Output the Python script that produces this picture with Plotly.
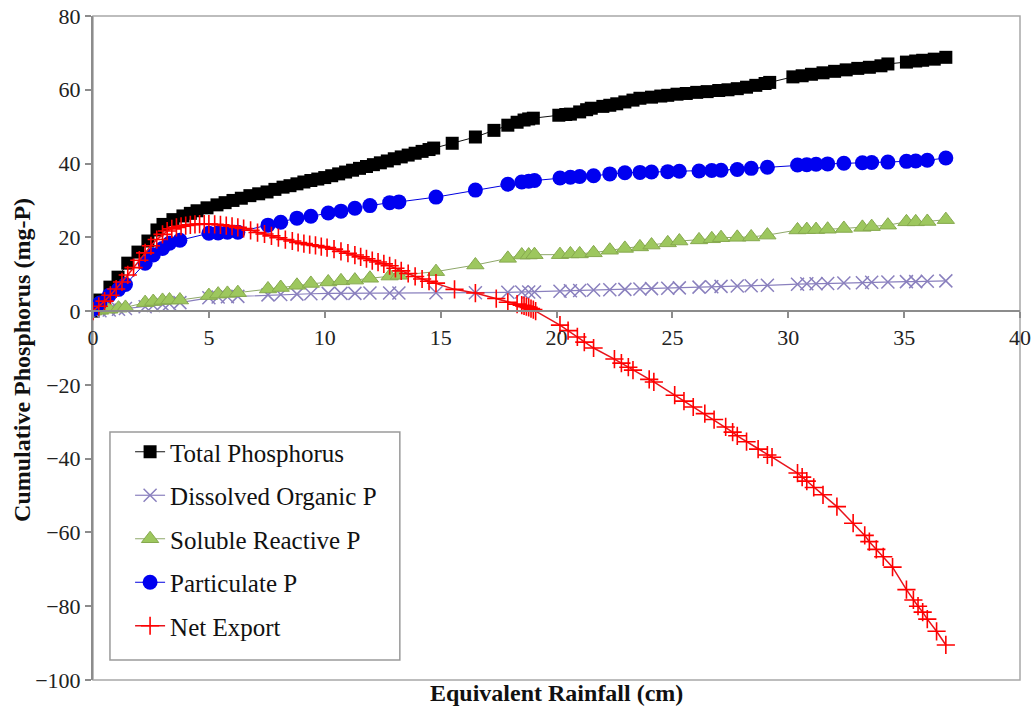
import plotly.graph_objects as go

# ---- Data ----
# Rainfall positions for the phosphorus fractions (DOP, SRP, PP)
x_frac = [0, 0.3, 0.7, 1.1, 1.4, 2.25, 2.6, 3.0, 3.3, 3.75, 5.0, 5.4, 5.8, 6.25, 7.55,
          8.1, 8.8, 9.4, 10.15, 10.7, 11.3, 11.95, 12.8, 13.2, 14.8, 16.5, 17.9, 18.5,
          18.8, 19.05, 20.15, 20.6, 21.0, 21.6, 22.3, 22.95, 23.6, 24.1, 24.8, 25.3,
          26.15, 26.7, 27.1, 27.8, 28.4, 29.1, 30.4, 30.8, 31.2, 31.7, 32.4, 33.2, 33.6,
          34.3, 35.1, 35.5, 36.0, 36.8]

dissolved_organic_p = [0, 0.1, 0.3, 0.5, 0.7, 1.2, 1.5, 1.8, 2.0, 2.3, 3.6, 3.8, 3.9, 4.0,
                       4.4, 4.5, 4.6, 4.7, 4.8, 4.8, 4.8, 4.9, 4.9, 4.9, 5.0, 5.0, 5.1, 5.2,
                       5.2, 5.2, 5.4, 5.5, 5.6, 5.7, 5.8, 5.9, 6.0, 6.1, 6.2, 6.3, 6.5, 6.6,
                       6.7, 6.8, 6.9, 7.0, 7.3, 7.4, 7.4, 7.5, 7.6, 7.7, 7.8, 7.9, 8.0, 8.0,
                       8.1, 8.2]

soluble_reactive_p = [0, 0.2, 0.5, 0.8, 1.0, 2.3, 2.6, 2.9, 3.0, 3.0, 4.2, 4.6, 4.8, 5.0,
                      6.0, 6.4, 7.0, 7.5, 7.9, 8.2, 8.4, 8.9, 9.5, 9.7, 10.7, 12.5, 14.3,
                      15.2, 15.2, 15.3, 15.3, 15.5, 15.5, 15.8, 16.5, 17.0, 17.4, 17.9, 18.5,
                      19.0, 19.3, 19.6, 19.9, 20.0, 20.1, 20.6, 22.0, 22.1, 22.1, 22.2, 22.4,
                      22.7, 22.9, 23.3, 24.2, 24.2, 24.3, 24.8]

particulate_p = [0.5, 2.2, 4.3, 5.9, 7.2, 13.0, 15.2, 17.0, 18.4, 19.2, 21.1, 21.2, 21.4,
                 21.4, 23.3, 24.1, 25.2, 25.7, 26.6, 27.1, 27.9, 28.6, 29.4, 29.6, 30.9,
                 32.8, 34.4, 35.0, 35.2, 35.4, 36.1, 36.3, 36.5, 36.7, 37.2, 37.5, 37.6,
                 37.7, 37.8, 37.9, 38.0, 38.1, 38.2, 38.4, 38.7, 39.0, 39.6, 39.7, 39.8,
                 39.9, 40.1, 40.2, 40.3, 40.4, 40.6, 40.7, 40.9, 41.5]

# Rainfall positions for total phosphorus
x_tp = [0, 0.3, 0.73, 1.08, 1.5, 1.94, 2.37, 2.76, 3.02, 3.45, 3.88, 4.2, 4.49, 4.92, 5.35,
        5.7, 6.04, 6.4, 6.77, 7.15, 7.51, 7.85, 8.2, 8.5, 8.8, 9.1, 9.4, 9.7, 10.0, 10.3,
        10.6, 10.9, 11.2, 11.5, 11.8, 12.1, 12.4, 12.7, 13.0, 13.3, 13.6, 13.9, 14.2, 14.5,
        14.7, 15.5, 16.5, 17.3, 17.9, 18.3, 18.6, 18.8, 19.0, 20.1, 20.4, 20.6, 21.0, 21.3,
        21.5, 22.0, 22.3, 22.6, 22.95, 23.3, 23.6, 24.1, 24.5, 24.8, 25.2, 25.6, 26.05,
        26.5, 27.0, 27.4, 27.8, 28.2, 28.6, 29.0, 29.2, 30.2, 30.6, 31.0, 31.5, 32.0, 32.5,
        33.0, 33.5, 34.0, 34.3, 35.1, 35.5, 35.8, 36.3, 36.8]

total_phosphorus = [0, 3.0, 6.5, 9.2, 13.0, 16.0, 19.0, 22.0, 23.5, 24.8, 25.8, 26.5, 27.2,
                    28.0, 28.8, 29.4, 30.0, 30.6, 31.3, 31.8, 32.3, 33.0, 33.6, 34.0, 34.5,
                    35.0, 35.4, 35.8, 36.2, 36.7, 37.2, 37.7, 38.2, 38.7, 39.2, 39.7, 40.2,
                    40.7, 41.3, 41.8, 42.3, 42.8, 43.3, 43.8, 44.2, 45.5, 47.2, 49.0, 50.4,
                    51.2, 51.8, 52.1, 52.3, 53.1, 53.3, 53.4, 54.0, 54.6, 55.0, 55.5, 55.8,
                    56.2, 56.7, 57.2, 57.7, 58.0, 58.3, 58.5, 58.8, 59.0, 59.3, 59.5, 59.8,
                    60.0, 60.3, 60.7, 61.2, 61.7, 62.0, 63.5, 63.8, 64.2, 64.6, 65.0, 65.4,
                    65.8, 66.1, 66.5, 67.0, 67.5, 67.8, 68.0, 68.3, 68.8]

# Rainfall positions for net export
x_net = [0, 0.25, 0.5, 0.75, 1.0, 1.25, 1.5, 1.75, 2.0, 2.25, 2.5, 2.75, 3.0, 3.2, 3.4, 3.6,
         3.8, 4.0, 4.2, 4.4, 4.6, 4.8, 5.0, 5.25, 5.5, 5.75, 6.0, 6.25, 6.5, 6.8, 7.1, 7.4,
         7.7, 8.0, 8.3, 8.6, 8.85, 9.1, 9.35, 9.6, 9.85, 10.1, 10.4, 10.7, 11.0, 11.3, 11.55,
         11.8, 12.05, 12.3, 12.55, 12.8, 13.05, 13.3, 13.6, 13.9, 14.2, 14.5, 14.8, 15.6,
         16.5, 17.4, 17.9, 18.3, 18.5, 18.6, 18.7, 18.8, 18.9, 19.0, 19.1, 20.15, 20.5,
         20.9, 21.2, 21.6, 22.5, 22.8, 23.1, 23.3, 24.0, 24.2, 25.1, 25.5, 25.9, 26.4, 26.8,
         27.3, 27.6, 27.8, 28.2, 28.7, 29.1, 29.3, 30.4, 30.6, 30.8, 31.1, 31.5, 32.1, 32.8,
         33.3, 33.5, 33.8, 34.1, 34.5, 35.1, 35.4, 35.6, 35.8, 36.0, 36.4, 36.8]

net_export = [0, 1.3, 2.7, 4.3, 6.0, 7.9, 9.8, 11.8, 13.8, 15.8, 17.7, 19.4, 20.8, 21.7,
              22.3, 22.7, 23.0, 23.2, 23.4, 23.5, 23.6, 23.6, 23.6, 23.5, 23.4, 23.2, 23.0,
              22.7, 22.4, 21.9, 21.3, 20.9, 20.4, 19.9, 19.4, 19.0, 18.6, 18.3, 18.0, 17.8,
              17.5, 17.2, 16.8, 16.2, 15.7, 15.2, 14.7, 14.2, 13.7, 13.3, 12.8, 12.3, 11.6,
              10.9, 10.2, 9.4, 8.7, 8.1, 7.6, 5.9, 4.9, 3.4, 2.4, 1.9, 1.6, 1.4, 1.2, 1.0,
              0.7, 0.4, 0.0, -3.8, -5.3, -7.0, -8.4, -10.0, -13.0, -14.1, -15.2, -16.0,
              -18.5, -19.2, -22.8, -24.4, -26.0, -27.8, -29.4, -31.4, -32.8, -33.8, -35.4,
              -37.4, -39.0, -39.6, -43.9, -45.0, -46.1, -47.8, -49.8, -53.0, -57.5, -60.8,
              -62.5, -64.6, -66.6, -69.4, -75.5, -78.3, -80.0, -81.6, -83.5, -86.8, -90.5]

x_ticks = [0, 5, 10, 15, 20, 25, 30, 35, 40]
y_ticks = [-100, -80, -60, -40, -20, 0, 20, 40, 60, 80]

FONT = "Liberation Serif, Times New Roman, serif"

fig = go.Figure()

fig.add_trace(go.Scatter(
    x=x_tp, y=total_phosphorus, name="Total Phosphorus", mode="lines+markers",
    line=dict(color="#111111", width=1),
    marker=dict(symbol="square", size=13, color="#000000"),
    legendgroup="tp"))

fig.add_trace(go.Scatter(
    x=x_frac, y=dissolved_organic_p, name="Dissolved Organic P", mode="lines+markers",
    line=dict(color="#8A80BE", width=1.2),
    marker=dict(symbol="x-thin", size=13, color="#8A80BE",
                line=dict(color="#8A80BE", width=1.5)),
    legendgroup="dop"))

fig.add_trace(go.Scatter(
    x=x_frac, y=soluble_reactive_p, name="Soluble Reactive P", mode="lines+markers",
    line=dict(color="#8FA86A", width=1),
    marker=dict(symbol="triangle-up", size=15, color="#9DC75E",
                line=dict(color="#86A94E", width=1)),
    legendgroup="srp"))

fig.add_trace(go.Scatter(
    x=x_frac, y=particulate_p, name="Particulate P", mode="lines+markers",
    line=dict(color="#0000E0", width=1),
    marker=dict(symbol="circle", size=15, color="#0000F0"),
    legendgroup="pp"))

fig.add_trace(go.Scatter(
    x=x_net, y=net_export, name="Net Export", mode="lines+markers",
    line=dict(color="#E8141C", width=1.5),
    marker=dict(symbol="cross-thin", size=13, color="#FF0000",
                line=dict(color="#FF0000", width=1.6)),
    legendgroup="net"))

fig.update_layout(
    width=1034, height=712,
    margin=dict(l=93, r=14, t=16, b=32, autoexpand=False),
    paper_bgcolor="white", plot_bgcolor="white",
    font=dict(family=FONT, color="#222222"),
    showlegend=True,
    legend=dict(
        x=0.04, y=0.378, xanchor="left", yanchor="top",
        bgcolor="rgba(0,0,0,0)", borderwidth=0,
        font=dict(family=FONT, size=25, color="#111111"),
        traceorder="grouped", tracegroupgap=8, itemwidth=30),
    xaxis=dict(
        range=[0, 40], tickvals=x_ticks, anchor="free", position=100 / 180,
        automargin=False,
        showgrid=False, zeroline=False, showline=True, linecolor="#8C8C8C", linewidth=2,
        ticks="outside", ticklen=6, tickcolor="#8C8C8C", tickwidth=1.5,
        tickfont=dict(family=FONT, size=22, color="#222222")),
    yaxis=dict(
        range=[-100, 80], tickvals=y_ticks, automargin=False,
        showgrid=False, zeroline=False, showline=True, linecolor="#8C8C8C", linewidth=2,
        ticks="outside", ticklen=6, tickcolor="#8C8C8C", tickwidth=1.5,
        tickfont=dict(family=FONT, size=22, color="#222222")),
    shapes=[
        dict(type="rect", xref="paper", yref="paper", x0=0, x1=1, y0=0, y1=1,
             line=dict(color="#A8A8A8", width=1.5), layer="below"),
        dict(type="rect", xref="paper", yref="paper", x0=0.0183, x1=0.331,
             y0=0.030, y1=0.3735, line=dict(color="#9A9A9A", width=1.5),
             fillcolor="white", layer="below"),
    ],
    annotations=[
        dict(text="<b>Equivalent Rainfall (cm)</b>", xref="paper", yref="paper",
             x=0.5, y=-0.0196, xanchor="center", yanchor="middle", showarrow=False,
             font=dict(family=FONT, size=24, color="#111111")),
        dict(text="<b>Cumulative Phosphorus (mg-P)</b>", xref="paper", yref="paper",
             x=-0.0766, y=0.482, xanchor="center", yanchor="middle", showarrow=False,
             textangle=-90, font=dict(family=FONT, size=24, color="#111111")),
    ],
)

fig.write_html("out.html")
